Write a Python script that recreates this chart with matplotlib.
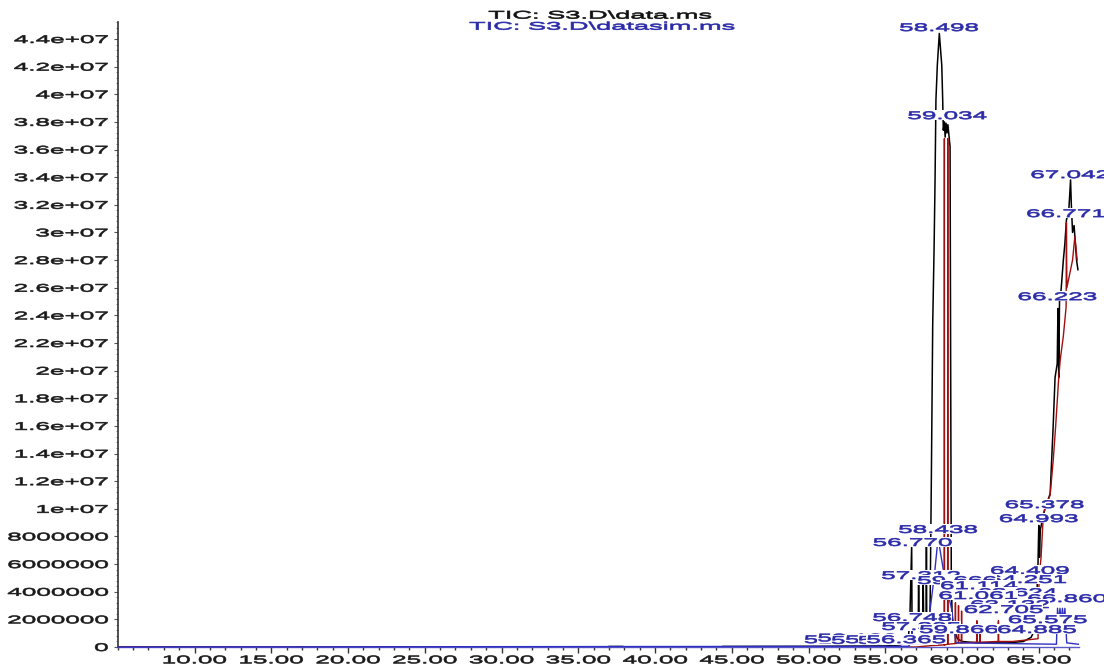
import numpy as np
import matplotlib
matplotlib.use("Agg")
import matplotlib.pyplot as plt
from matplotlib.patheffects import AbstractPathEffect
from matplotlib.transforms import Affine2D
from matplotlib.path import Path
from matplotlib.ticker import FixedLocator, MultipleLocator
from matplotlib.colors import to_rgb

# ---------------- data (abundance in millions of counts) ----------------
black_t = [5.0, 36.9, 37.0, 37.9, 38.0, 44.3, 44.4, 50.0, 55.0, 56.0, 56.5,
           56.60, 56.72, 56.74, 57.15, 57.17, 57.20, 57.45, 57.47, 57.50,
           57.66, 57.68, 57.70, 57.88, 57.92, 58.00, 58.09, 58.18, 58.24,
           58.30, 58.39, 58.52, 58.68, 58.74, 58.78, 58.85, 58.90, 58.96,
           59.02, 59.08, 59.15, 59.22, 59.26, 59.30, 59.36, 59.50, 59.70,
           60.0, 61.0, 62.0, 63.0, 64.0, 64.5, 64.85, 64.90, 64.95, 65.00,
           65.05, 65.10, 65.40, 65.74, 65.93, 66.06, 66.20, 66.25, 66.30,
           66.35, 66.45, 66.60, 66.70, 66.80, 66.95, 67.07, 67.12, 67.20,
           67.30, 67.46, 67.55]
black_i = [0.0, 0.0, 0.04, 0.04, 0.0, 0.0, 0.04, 0.05, 0.08, 0.15, 0.6,
           2.0, 7.4, 2.0, 2.0, 4.85, 2.0, 2.0, 4.85, 2.0,
           2.0, 7.3, 2.0, 2.0, 3.0, 12.0, 23.4, 28.9, 33.6,
           39.6, 42.1, 44.4, 42.1, 39.6, 37.4, 38.0, 36.9, 37.9,
           37.2, 37.8, 37.0, 36.2, 20.0, 5.0, 2.0, 1.2, 0.6,
           0.4, 0.3, 0.3, 0.3, 0.4, 0.7, 1.5, 4.5, 6.1, 8.8,
           6.5, 8.5, 10.0, 11.1, 15.8, 19.5, 20.5, 24.5, 19.5,
           25.0, 25.8, 28.0, 29.2, 30.9, 31.5, 33.8, 32.0, 30.0,
           30.5, 28.0, 27.3]

red_t = [5.0, 57.0, 58.0, 58.84, 58.85, 58.86, 59.06, 59.07, 59.08,
         59.55, 59.57, 59.59, 59.75, 59.77, 59.79, 59.95, 59.97, 59.99,
         60.95, 60.97, 60.99, 61.15, 61.17, 61.19, 62.35, 62.37, 62.39,
         63.3, 64.95, 65.02, 65.15, 65.30, 65.74, 65.94, 66.10, 66.30,
         66.40, 66.60, 66.78, 66.80, 66.83, 67.20, 67.35, 67.50]
red_i = [0.0, 0.0, 0.1, 0.15, 36.8, 0.15, 0.2, 36.8, 0.2,
         0.25, 3.2, 0.25, 0.3, 3.0, 0.3, 0.3, 2.6, 0.3,
         0.35, 1.9, 0.35, 0.35, 1.6, 0.35, 0.4, 1.9, 0.4,
         0.4, 0.6, 5.0, 6.5, 9.7, 11.0, 13.5, 16.0, 19.5,
         20.8, 22.5, 24.6, 30.7, 26.0, 28.0, 29.7, 28.0]

blue_t = [5.0, 56.5, 56.72, 56.75, 56.78, 57.6, 57.92, 58.20, 58.44, 58.60,
          58.90, 59.33, 59.60, 66.15, 66.22, 66.30, 66.38, 66.46, 66.54,
          66.62, 66.70, 66.82, 67.58]
blue_i = [0.0, 0.05, 0.3, 1.3, 0.3, 0.3, 2.7, 5.2, 7.9, 6.8,
          4.8, 2.7, 0.3, 0.2, 2.8, 1.8, 2.8, 1.8, 2.8,
          1.8, 2.8, 0.3, 0.2]

# peak labels: text, retention time, label height in millions (draw order)
peak_text = ["58.498", "59.034", "67.042", "66.771", "66.223", "65.378",
             "64.993", "58.438", "56.770", "64.409", "57.312", "64.251",
             "59.666", "61.114", "63.624", "61.061", "66.860", "63.132",
             "62.705", "56.748", "65.575", "57.305", "59.866", "64.885",
             "52.304", "53.182", "54.051", "54.972", "55.814", "56.365"]
peak_rt = [58.498, 59.034, 67.042, 66.771, 66.223, 65.378,
           64.993, 58.438, 56.770, 64.409, 57.33, 64.251,
           59.67, 61.114, 63.624, 61.061, 66.860, 63.132,
           62.705, 56.748, 65.575, 57.33, 59.80, 64.885,
           52.30, 53.18, 54.05, 54.97, 55.81, 56.365]
peak_h = [44.79, 38.42, 34.15, 31.33, 25.32, 10.27,
          9.26, 8.47, 7.53, 5.50, 5.14, 4.85,
          4.78, 4.41, 3.91, 3.69, 3.47, 3.04,
          2.68, 2.10, 1.95, 1.45, 1.23, 1.23,
          0.50, 0.62, 0.45, 0.50, 0.45, 0.50]

x_major = [10, 15, 20, 25, 30, 35, 40, 45, 50, 55, 60, 65]
x_labels = ["10.00", "15.00", "20.00", "25.00", "30.00", "35.00", "40.00",
            "45.00", "50.00", "55.00", "60.00", "65.00"]
y_major = [0, 2e6, 4e6, 6e6, 8e6, 1e7, 1.2e7, 1.4e7, 1.6e7, 1.8e7, 2e7,
           2.2e7, 2.4e7, 2.6e7, 2.8e7, 3e7, 3.2e7, 3.4e7, 3.6e7, 3.8e7,
           4e7, 4.2e7, 4.4e7]
y_labels = ["0", "2000000", "4000000", "6000000", "8000000", "1e+07",
            "1.2e+07", "1.4e+07", "1.6e+07", "1.8e+07", "2e+07", "2.2e+07",
            "2.4e+07", "2.6e+07", "2.8e+07", "3e+07", "3.2e+07", "3.4e+07",
            "3.6e+07", "3.8e+07", "4e+07", "4.2e+07", "4.4e+07"]
title1 = "TIC: S3.D\\data.ms"
title2 = "TIC: S3.D\\datasim.ms"


# ---------------- horizontal stretch effect for text ----------------
class Stretch(AbstractPathEffect):
    def __init__(self, sx=2.3, ha="center", bg=None, pad=1.0, stroke=0.45):
        super().__init__()
        self.sx, self.ha, self.pad, self.stroke = sx, ha, pad, stroke
        self.bg = None if bg is None else to_rgb(bg)

    def draw_path(self, renderer, gc, tpath, affine, rgbFace=None):
        ext = tpath.get_extents(affine)
        if self.ha == "right":
            px = ext.x1
        elif self.ha == "left":
            px = ext.x0
        else:
            px = 0.5 * (ext.x0 + ext.x1)
        tr = affine + Affine2D().translate(-px, 0).scale(self.sx, 1).translate(px, 0)
        if self.bg is not None:
            e2 = tpath.get_extents(tr)
            gc0 = renderer.new_gc()
            gc0.copy_properties(gc)
            gc0.set_linewidth(0)
            gc0.set_alpha(1.0)
            p = self.pad
            rt = Affine2D().scale(e2.width + 2 * p, e2.height + 2 * p).translate(e2.x0 - p, e2.y0 - p)
            renderer.draw_path(gc0, Path.unit_rectangle(), rt, self.bg)
            gc0.restore()
        gc1 = renderer.new_gc()
        gc1.copy_properties(gc)
        if rgbFace is not None and self.stroke > 0:
            gc1.set_foreground(rgbFace)
            gc1.set_linewidth(self.stroke)
            gc1.set_joinstyle("round")
        renderer.draw_path(gc1, tpath, tr, rgbFace)
        gc1.restore()


FONT = "Liberation Sans"
FS = 8.0
SX = 2.35
M = 1e6

fig = plt.figure(figsize=(11.04, 6.66), dpi=100)
ax = fig.add_axes([117.75 / 1104, 19 / 666, (1078.7 - 117.75) / 1104, (647 - 21.7) / 666])

ax.plot(black_t, np.array(black_i) * M, color="black", lw=1.1, zorder=3)
ax.plot(red_t, np.array(red_i) * M, color="#a01010", lw=1.0, zorder=4)
ax.plot(blue_t, np.array(blue_i) * M, color="#3030c0", lw=1.0, zorder=5, clip_on=False)

ax.set_xlim(5.0, 67.6)
ax.set_ylim(0, 45.25e6)

for s in ["top", "right"]:
    ax.spines[s].set_visible(False)
ax.spines["left"].set_color("#333333")
ax.spines["bottom"].set_color("#5a5ac8")
ax.spines["left"].set_linewidth(1.2)
ax.spines["bottom"].set_linewidth(1.0)

ax.xaxis.set_major_locator(FixedLocator(x_major))
ax.set_xticklabels(x_labels)
ax.xaxis.set_minor_locator(MultipleLocator(1))
ax.yaxis.set_major_locator(FixedLocator(y_major))
ax.set_yticklabels(y_labels)
ax.yaxis.set_minor_locator(MultipleLocator(4e5))

ax.tick_params(axis="x", which="major", length=4.0, width=1.0, color="#333333", pad=2)
ax.tick_params(axis="x", which="minor", length=2.2, width=1.0, color="#333333")
ax.tick_params(axis="y", which="major", length=3.0, width=0.8, color="#555555", pad=4)
ax.tick_params(axis="y", which="minor", length=1.6, width=0.6, color="#777777")

for lab in ax.get_xticklabels():
    lab.set_fontfamily(FONT)
    lab.set_fontsize(FS)
    lab.set_color("#1a1a1a")
    lab.set_path_effects([Stretch(SX, "center")])
for lab in ax.get_yticklabels():
    lab.set_fontfamily(FONT)
    lab.set_fontsize(FS)
    lab.set_color("#1a1a1a")
    lab.set_path_effects([Stretch(SX, "right")])

# peak labels drawn with white backgrounds, later ones on top
for k, (txt, rt, h) in enumerate(zip(peak_text, peak_rt, peak_h)):
    ax.text(rt, h * M, txt, ha="center", va="center", fontfamily=FONT,
            fontsize=FS, color="#2a2aa8", zorder=10 + k * 0.01, clip_on=False,
            path_effects=[Stretch(SX, "center", bg="white", pad=1.0)])

fig.text(600 / 1104, 1 - 15.6 / 666, title1, ha="center", va="center",
         fontfamily=FONT, fontsize=FS, color="#111111",
         path_effects=[Stretch(2.45, "center")])
fig.text(602 / 1104, 1 - 26.7 / 666, title2, ha="center", va="center",
         fontfamily=FONT, fontsize=FS, color="#2a2aa8",
         path_effects=[Stretch(2.45, "center")])

fig.savefig("out.png", dpi=100, facecolor="white")
